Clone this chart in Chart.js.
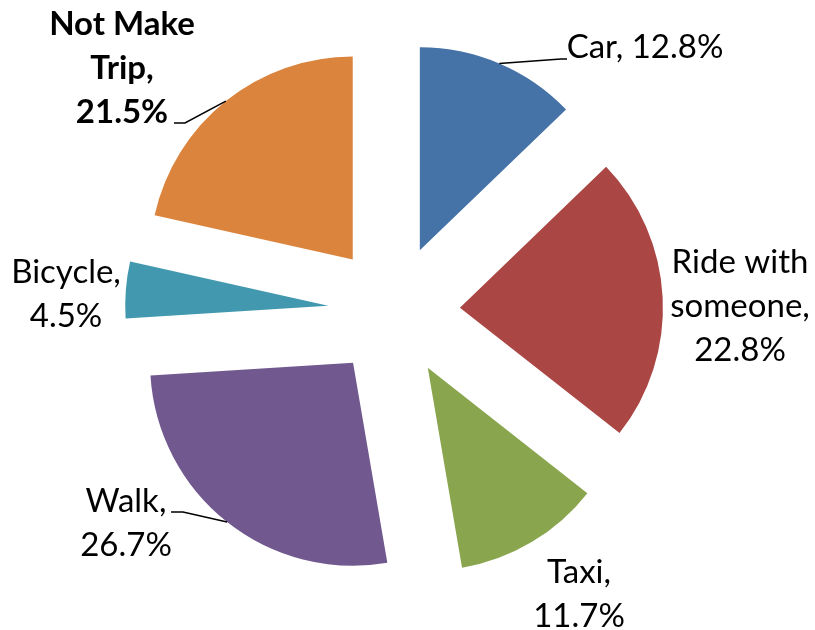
<!DOCTYPE html>
<html>
<head>
<meta charset="utf-8">
<script src="https://cdn.jsdelivr.net/npm/chart.js@4.4.0/dist/chart.umd.min.js"></script>
<style>
  html, body { margin: 0; padding: 0; background: #fff; }
</style>
</head>
<body>
<canvas id="modeChart" width="815" height="630"></canvas>
<script>
// ---------- data ----------
const categories = ['Car', 'Ride with someone', 'Taxi', 'Walk', 'Bicycle', 'Not Make Trip'];
const shares = [12.8, 22.8, 11.7, 26.7, 4.5, 21.5];

// ---------- style ----------
const sliceColors = ['#4572A7', '#AA4643', '#89A54E', '#71588F', '#4198AF', '#DB843D'];
const EXPLODE = 66;      // distance each slice is pulled out
const RADIUS = 203;
const FONT_FAMILY = 'Lato, "Open Sans", sans-serif';
const FONT_SIZE = 33;
const LINE_HEIGHT = 44;

// label placement: centre x, first baseline, wrap width, bold, leader elbow/end
const labelLayout = [
    { x: 645, y: 58,  wrap: 240, bold: false, leader: [[561, 59], [567, 59]] },
    { x: 740, y: 273, wrap: 150, bold: false, leader: null },
    { x: 579, y: 583, wrap: 100, bold: false, leader: null },
    { x: 126, y: 512, wrap: 100, bold: false, leader: [[183, 512], [171, 512]] },
    { x: 66,  y: 283, wrap: 118, bold: false, leader: null },
    { x: 122, y: 35,  wrap: 150, bold: true,  leader: [[185, 123], [174, 123]] }
];

function wrapText(ctx, text, maxWidth) {
    const words = text.split(' ');
    const lines = [];
    let line = '';
    words.forEach(w => {
        const test = line ? line + ' ' + w : w;
        if (line && ctx.measureText(test).width > maxWidth) {
            lines.push(line);
            line = w;
        } else {
            line = test;
        }
    });
    if (line) lines.push(line);
    return lines;
}

// pull every slice away from the centre along its middle angle
const explodePlugin = {
    id: 'explode',
    beforeDatasetsDraw(chart) {
        const area = chart.chartArea;
        const cx = (area.left + area.right) / 2;
        const cy = (area.top + area.bottom) / 2;
        chart.getDatasetMeta(0).data.forEach(arc => {
            const mid = (arc.startAngle + arc.endAngle) / 2;
            arc.x = cx + Math.cos(mid) * EXPLODE;
            arc.y = cy + Math.sin(mid) * EXPLODE;
        });
    }
};

// data labels with leader lines
const sliceLabelPlugin = {
    id: 'sliceLabels',
    afterDatasetsDraw(chart) {
        const ctx = chart.ctx;
        const arcs = chart.getDatasetMeta(0).data;
        ctx.save();
        arcs.forEach((arc, i) => {
            const lay = labelLayout[i];
            if (lay.leader) {
                const mid = (arc.startAngle + arc.endAngle) / 2;
                ctx.beginPath();
                ctx.moveTo(arc.x + Math.cos(mid) * arc.outerRadius, arc.y + Math.sin(mid) * arc.outerRadius);
                lay.leader.forEach(p => ctx.lineTo(p[0], p[1]));
                ctx.strokeStyle = '#000';
                ctx.lineWidth = 1.5;
                ctx.stroke();
            }
            ctx.font = (lay.bold ? 'bold ' : '') + FONT_SIZE + 'px ' + FONT_FAMILY;
            ctx.fillStyle = '#000';
            ctx.textAlign = 'center';
            ctx.textBaseline = 'alphabetic';
            const text = categories[i] + ', ' + shares[i].toFixed(1) + '%';
            wrapText(ctx, text, lay.wrap).forEach((ln, k) => {
                ctx.fillText(ln, lay.x, lay.y + k * LINE_HEIGHT);
            });
        });
        ctx.restore();
    }
};

new Chart(document.getElementById('modeChart'), {
    type: 'pie',
    data: {
        labels: categories,
        datasets: [{
            data: shares,
            backgroundColor: sliceColors,
            borderWidth: 0
        }]
    },
    options: {
        responsive: false,
        animation: false,
        radius: RADIUS,
        layout: { padding: { left: 0, right: 27, top: 0, bottom: 8 } },
        plugins: {
            legend: { display: false },
            tooltip: { enabled: false }
        }
    },
    plugins: [explodePlugin, sliceLabelPlugin]
});
</script>
</body>
</html>
